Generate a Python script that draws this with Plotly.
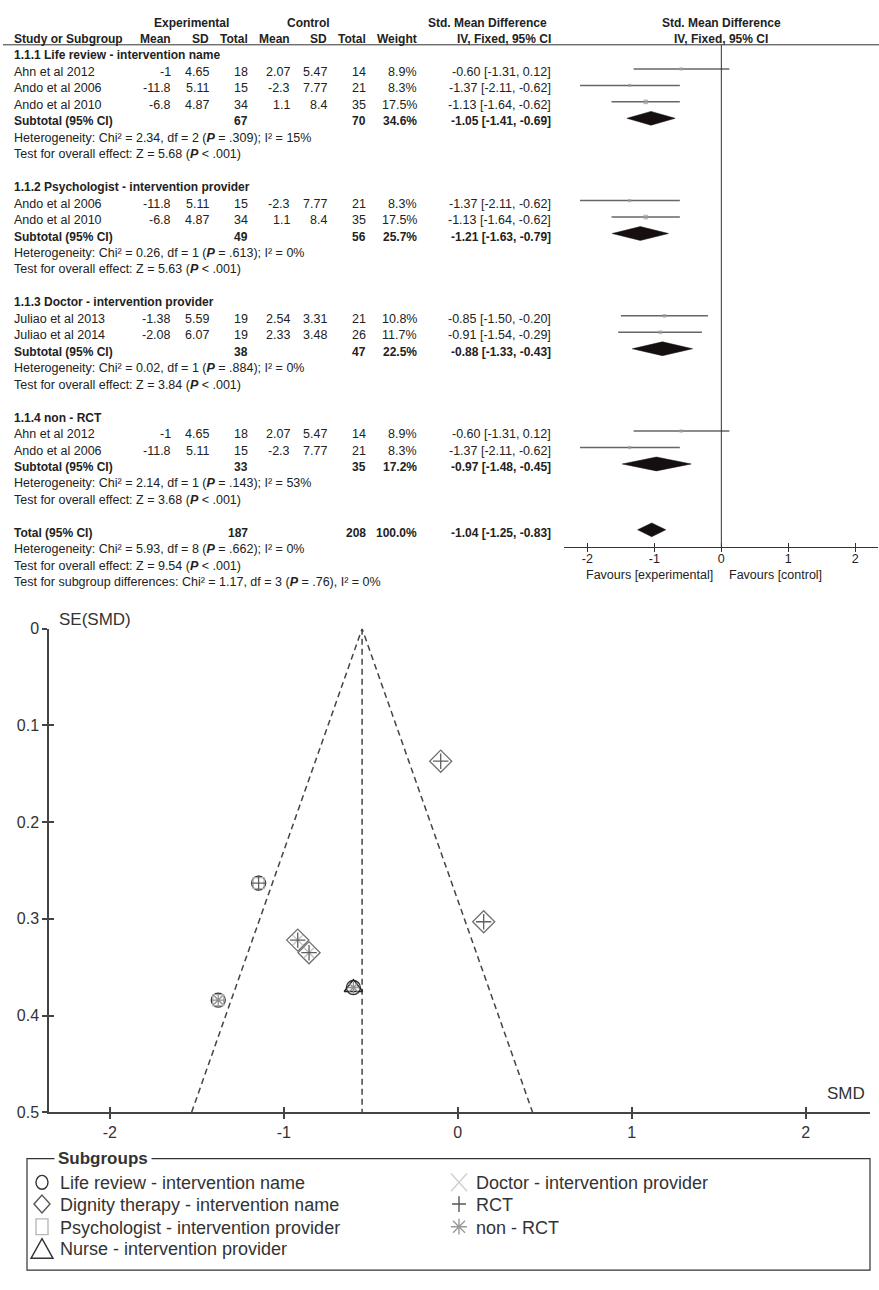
import plotly.graph_objects as go

# ---------------- DATA ----------------
group_titles = ["1.1.1 Life review - intervention name",
                "1.1.2 Psychologist - intervention provider",
                "1.1.3 Doctor - intervention provider",
                "1.1.4 non - RCT"]
study_names = ["Ahn et al 2012", "Ando et al 2006", "Ando et al 2010",
               "Ando et al 2006", "Ando et al 2010",
               "Juliao et al 2013", "Juliao et al 2014",
               "Ahn et al 2012", "Ando et al 2006"]
study_group = [0, 0, 0, 1, 1, 2, 2, 3, 3]
exp_mean = [-1, -11.8, -6.8, -11.8, -6.8, -1.38, -2.08, -1, -11.8]
exp_sd = [4.65, 5.11, 4.87, 5.11, 4.87, 5.59, 6.07, 4.65, 5.11]
exp_n = [18, 15, 34, 15, 34, 19, 19, 18, 15]
ctl_mean = [2.07, -2.3, 1.1, -2.3, 1.1, 2.54, 2.33, 2.07, -2.3]
ctl_sd = [5.47, 7.77, 8.4, 7.77, 8.4, 3.31, 3.48, 5.47, 7.77]
ctl_n = [14, 21, 35, 21, 35, 21, 26, 14, 21]
weight = [8.9, 8.3, 17.5, 8.3, 17.5, 10.8, 11.7, 8.9, 8.3]
smd = [-0.60, -1.37, -1.13, -1.37, -1.13, -0.85, -0.91, -0.60, -1.37]
ci_lo = [-1.31, -2.11, -1.64, -2.11, -1.64, -1.50, -1.54, -1.31, -2.11]
ci_hi = [0.12, -0.62, -0.62, -0.62, -0.62, -0.20, -0.29, 0.12, -0.62]

sub_exp_n = [67, 49, 38, 33]
sub_ctl_n = [70, 56, 47, 35]
sub_weight = [34.6, 25.7, 22.5, 17.2]
sub_smd = [-1.05, -1.21, -0.88, -0.97]
sub_lo = [-1.41, -1.63, -1.33, -1.48]
sub_hi = [-0.69, -0.79, -0.43, -0.45]
sub_chi2 = [2.34, 0.26, 0.02, 2.14]
sub_df = [2, 1, 1, 1]
sub_p = [".309", ".613", ".884", ".143"]
sub_i2 = [15, 0, 0, 53]
sub_z = [5.68, 5.63, 3.84, 3.68]

total_exp_n = 187
total_ctl_n = 208
total_weight = 100.0
total_smd = -1.04
total_lo = -1.25
total_hi = -0.83
total_chi2 = 5.93
total_df = 8
total_p = ".662"
total_i2 = 0
total_z = 9.54
diff_chi2 = 1.17
diff_df = 3
diff_p = ".76"
diff_i2 = 0

forest_ticks = [-2, -1, 0, 1, 2]
forest_ticktext = ["-2", "-1", "0", "1", "2"]

# funnel plot
funnel_smd = [-0.60, -1.377, -1.145, -0.855, -0.92, -0.098, 0.149]
funnel_se = [0.371, 0.384, 0.263, 0.335, 0.322, 0.137, 0.303]
pooled_smd = -0.55
se_max = 0.5
subgroup_labels = ["Life review - intervention name",
                   "Dignity therapy - intervention name",
                   "Psychologist - intervention provider",
                   "Nurse - intervention provider",
                   "Doctor - intervention provider",
                   "RCT",
                   "non - RCT"]
# membership of each funnel study (index into funnel arrays) per subgroup
subgroup_members = [[0, 1, 2],
                    [3, 4, 5, 6],
                    [1, 2],
                    [0],
                    [3, 4],
                    [2, 3, 4, 5, 6],
                    [0, 1]]
funnel_xticks = [-2, -1, 0, 1, 2]
funnel_xticktext = ["-2", "-1", "0", "1", "2"]
funnel_yticks = [0, 0.1, 0.2, 0.3, 0.4, 0.5]
funnel_yticktext = ["0", "0.1", "0.2", "0.3", "0.4", "0.5"]

# ---------------- STYLE / LAYOUT ----------------
W, H = 879, 1290
FONT = "Liberation Sans, Arial, sans-serif"
TXT = "#222222"
ROW_PX = 16.68
ROW0_PX = 11.7
DIAMOND_HALF = 0.42
REG = 12.5
BLD = 12


def fy(p):
    return 1 - p / H


def fx(p):
    return p / W


fig = go.Figure()
annotations = []
shapes = []


def txt(xp, row, text, anchor="left", bold=False, size=None, xref="paper", color=TXT):
    if size is None:
        size = BLD if bold else REG
    if bold:
        text = "<b>" + text + "</b>"
    annotations.append(dict(x=(xp / W) if xref == "paper" else xp, xref=xref, y=row, yref="y",
                            text=text, showarrow=False, xanchor=anchor, yanchor="middle",
                            yshift=-3, font=dict(family=FONT, size=size, color=color)))


COL = dict(study=11.5, em=173, esd=211, en=250, cm=292, csd=328.5, cn=367.5, w=419, ci=553)

# header
txt(191, 0, "Experimental", "center", True)
txt(308.5, 0, "Control", "center", True)
txt(549, 0, "Std. Mean Difference", "right", True)
txt(0, 0, "Std. Mean Difference", "center", True, xref="x")
txt(COL["study"], 1, "Study or Subgroup", "left", True)
txt(COL["em"], 1, "Mean", "right", True)
txt(COL["esd"], 1, "SD", "right", True)
txt(COL["en"], 1, "Total", "right", True)
txt(COL["cm"], 1, "Mean", "right", True)
txt(COL["csd"], 1, "SD", "right", True)
txt(COL["cn"], 1, "Total", "right", True)
txt(COL["w"], 1, "Weight", "right", True)
txt(COL["ci"], 1, "IV, Fixed, 95% CI", "right", True)
txt(0, 1, "IV, Fixed, 95% CI", "center", True, xref="x")


def ci_text(e, lo, hi):
    return f"{e:.2f} [{lo:.2f}, {hi:.2f}]"


P = "<b><i>P</i></b>"

study_rows = []
sub_rows = []
row = 2
for g in range(len(group_titles)):
    txt(COL["study"], row, group_titles[g], "left", True)
    idx = [i for i in range(len(study_names)) if study_group[i] == g]
    for k, i in enumerate(idx):
        r = row + 1 + k
        study_rows.append(r)
        txt(COL["study"], r, study_names[i])
        txt(COL["em"], r, f"{exp_mean[i]:g}", "right")
        txt(COL["esd"], r, f"{exp_sd[i]:g}", "right")
        txt(COL["en"], r, f"{exp_n[i]}", "right")
        txt(COL["cm"], r, f"{ctl_mean[i]:g}", "right")
        txt(COL["csd"], r, f"{ctl_sd[i]:g}", "right")
        txt(COL["cn"], r, f"{ctl_n[i]}", "right")
        txt(COL["w"], r, f"{weight[i]:.1f}%", "right")
        txt(COL["ci"], r, ci_text(smd[i], ci_lo[i], ci_hi[i]), "right")
    r = row + 1 + len(idx)
    sub_rows.append(r)
    txt(COL["study"], r, "Subtotal (95% CI)", "left", True)
    txt(COL["en"], r, f"{sub_exp_n[g]}", "right", True)
    txt(COL["cn"], r, f"{sub_ctl_n[g]}", "right", True)
    txt(COL["w"], r, f"{sub_weight[g]:.1f}%", "right", True)
    txt(COL["ci"], r, ci_text(sub_smd[g], sub_lo[g], sub_hi[g]), "right", True)
    txt(COL["study"], r + 1,
        f"Heterogeneity: Chi² = {sub_chi2[g]:.2f}, df = {sub_df[g]} ({P} = {sub_p[g]}); I² = {sub_i2[g]}%")
    txt(COL["study"], r + 2, f"Test for overall effect: Z = {sub_z[g]:.2f} ({P} < .001)")
    row = r + 4

total_row = row
txt(COL["study"], total_row, "Total (95% CI)", "left", True)
txt(COL["en"], total_row, f"{total_exp_n}", "right", True)
txt(COL["cn"], total_row, f"{total_ctl_n}", "right", True)
txt(COL["w"], total_row, f"{total_weight:.1f}%", "right", True)
txt(COL["ci"], total_row, ci_text(total_smd, total_lo, total_hi), "right", True)
txt(COL["study"], total_row + 1,
    f"Heterogeneity: Chi² = {total_chi2:.2f}, df = {total_df} ({P} = {total_p}); I² = {total_i2}%")
txt(COL["study"], total_row + 2, f"Test for overall effect: Z = {total_z:.2f} ({P} < .001)")
txt(COL["study"], total_row + 3,
    f"Test for subgroup differences: Chi² = {diff_chi2:.2f}, df = {diff_df} ({P} = {diff_p}), I² = {diff_i2}%")

# forest marks
lx, ly = [], []
for i, r in enumerate(study_rows):
    lx += [ci_lo[i], ci_hi[i], None]
    ly += [r, r, None]
fig.add_trace(go.Scatter(x=lx, y=ly, mode="lines", line=dict(color="#666666", width=1.5),
                         hoverinfo="skip", showlegend=False, xaxis="x", yaxis="y"))
fig.add_trace(go.Scatter(x=smd, y=study_rows, mode="markers",
                         marker=dict(symbol="square", color="#a0a0a0",
                                     size=[2 + w * 0.15 for w in weight], line=dict(width=0)),
                         hoverinfo="skip", showlegend=False, xaxis="x", yaxis="y"))
for e, lo, hi, r in list(zip(sub_smd, sub_lo, sub_hi, sub_rows)) + [(total_smd, total_lo, total_hi, total_row)]:
    fig.add_trace(go.Scatter(x=[lo, e, hi, e, lo], y=[r, r - DIAMOND_HALF, r, r + DIAMOND_HALF, r],
                             mode="lines", fill="toself", fillcolor="#150f0f",
                             line=dict(color="#150f0f", width=0.5),
                             hoverinfo="skip", showlegend=False, xaxis="x", yaxis="y"))
fig.add_trace(go.Scatter(x=[None], y=[None], xaxis="x2", yaxis="y", showlegend=False))

annotations.append(dict(x=0, xref="x", xshift=-6, y=fy(575), yref="paper", text="Favours [experimental]",
                        showarrow=False, xanchor="right", yanchor="middle",
                        font=dict(family=FONT, size=REG, color=TXT)))
annotations.append(dict(x=0, xref="x", xshift=6, y=fy(575), yref="paper", text="Favours [control]",
                        showarrow=False, xanchor="left", yanchor="middle",
                        font=dict(family=FONT, size=REG, color=TXT)))

shapes.append(dict(type="line", xref="paper", yref="paper", x0=fx(3), x1=1, y0=fy(37.3), y1=fy(37.3),
                   line=dict(color="#333", width=1)))
shapes.append(dict(type="line", xref="x", yref="paper", x0=0, x1=0, y0=fy(546), y1=fy(37.3),
                   line=dict(color="#333", width=1)))

# ---------------- FUNNEL ----------------
fig.add_trace(go.Scatter(x=[pooled_smd - 1.96 * se_max, pooled_smd, pooled_smd + 1.96 * se_max],
                         y=[se_max, 0, se_max], mode="lines",
                         line=dict(color="#444", width=1.5, dash="6px,4px"),
                         hoverinfo="skip", showlegend=False, xaxis="x3", yaxis="y3"))
fig.add_trace(go.Scatter(x=[pooled_smd, pooled_smd], y=[0, se_max], mode="lines",
                         line=dict(color="#444", width=1.5, dash="6px,4px"),
                         hoverinfo="skip", showlegend=False, xaxis="x3", yaxis="y3"))

sym_style = [("circle-open", "#333333", 14),
             ("diamond-open", "#707070", 17),
             ("square-open", "#b0b0b0", 11),
             ("triangle-up-open", "#222222", 16),
             ("x-thin-open", "#c0c0c0", 10),
             ("cross-thin-open", "#606060", 11),
             ("asterisk-open", "#909090", 10)]
for lab, mem, (sym, col, sz) in zip(subgroup_labels, subgroup_members, sym_style):
    fig.add_trace(go.Scatter(x=[funnel_smd[i] for i in mem], y=[funnel_se[i] for i in mem],
                             mode="markers", name=lab,
                             marker=dict(symbol=sym, size=sz, color=col, line=dict(color=col, width=1.3)),
                             hoverinfo="skip", showlegend=False, xaxis="x3", yaxis="y3"))
fig.add_trace(go.Scatter(x=[None], y=[None], xaxis="x4", yaxis="y3", showlegend=False))
fig.add_trace(go.Scatter(x=[None], y=[None], xaxis="x3", yaxis="y4", showlegend=False))

FF = dict(family=FONT, size=16, color="#333")
FL = dict(family=FONT, size=17, color="#333")
annotations.append(dict(x=fx(57), xref="paper", y=fy(620), yref="paper", text="SE(SMD)", showarrow=False,
                        xanchor="left", yanchor="middle", font=FL))
annotations.append(dict(x=fx(867), xref="paper", y=fy(1100), yref="paper", text="SMD", showarrow=False,
                        xanchor="right", yanchor="middle", font=FL))

# legend box (drawn)
shapes.append(dict(type="rect", xref="paper", yref="paper", x0=fx(27), x1=fx(870), y0=fy(1279), y1=fy(1166),
                   line=dict(color="#333", width=1.2), fillcolor="rgba(0,0,0,0)"))
annotations.append(dict(x=fx(54), xref="paper", y=fy(1166), yref="paper", text="<b>Subgroups</b>",
                        showarrow=False, xanchor="left", yanchor="middle", bgcolor="white", borderpad=3,
                        font=dict(family=FONT, size=17, color="#333")))


def ppath(points, close=False):
    s = "M " + " L ".join(f"{fx(a):.5f},{fy(b):.5f}" for a, b in points)
    return s + (" Z" if close else "")


def glyph(kind, cx, cy, col):
    ln = dict(color=col, width=1.4)
    if kind == "circle":
        shapes.append(dict(type="circle", xref="paper", yref="paper", x0=fx(cx - 6), x1=fx(cx + 6),
                           y0=fy(cy + 7), y1=fy(cy - 7), line=ln))
    elif kind == "diamond":
        shapes.append(dict(type="path", xref="paper", yref="paper", line=ln,
                           path=ppath([(cx, cy - 9), (cx + 8, cy), (cx, cy + 9), (cx - 8, cy)], True)))
    elif kind == "square":
        shapes.append(dict(type="rect", xref="paper", yref="paper", x0=fx(cx - 6), x1=fx(cx + 6),
                           y0=fy(cy + 8), y1=fy(cy - 8), line=ln))
    elif kind == "triangle":
        shapes.append(dict(type="path", xref="paper", yref="paper", line=ln,
                           path=ppath([(cx, cy - 10), (cx + 11, cy + 10), (cx - 11, cy + 10)], True)))
    elif kind == "x":
        shapes.append(dict(type="path", xref="paper", yref="paper", line=ln,
                           path=ppath([(cx - 8, cy - 9), (cx + 8, cy + 9)]) + " " +
                           ppath([(cx - 8, cy + 9), (cx + 8, cy - 9)])))
    elif kind == "cross":
        shapes.append(dict(type="path", xref="paper", yref="paper", line=ln,
                           path=ppath([(cx, cy - 8), (cx, cy + 8)]) + " " +
                           ppath([(cx - 7, cy), (cx + 7, cy)])))
    elif kind == "asterisk":
        shapes.append(dict(type="path", xref="paper", yref="paper", line=ln,
                           path=ppath([(cx, cy - 8), (cx, cy + 8)]) + " " +
                           ppath([(cx - 8, cy), (cx + 8, cy)]) + " " +
                           ppath([(cx - 6, cy - 6), (cx + 6, cy + 6)]) + " " +
                           ppath([(cx - 6, cy + 6), (cx + 6, cy - 6)])))


glyph_kinds = ["circle", "diamond", "square", "triangle", "x", "cross", "asterisk"]
glyph_cols = ["#333", "#555", "#b8b8b8", "#333", "#d0d0d0", "#555", "#999"]
leg_pos = [(42, 58, 1191), (42, 58, 1213), (42, 58, 1236), (42, 58, 1258),
           (459, 474, 1191), (459, 474, 1213), (459, 474, 1236)]
for lab, gk, gc, (gx, tx, ty) in zip(subgroup_labels, glyph_kinds, glyph_cols, leg_pos):
    glyph(gk, gx, ty - 1, gc)
    annotations.append(dict(x=fx(tx), xref="paper", y=fy(ty), yref="paper", text=lab, showarrow=False,
                            xanchor="left", yanchor="middle",
                            font=dict(family=FONT, size=18, color="#333")))

n_rows_top = (600 - ROW0_PX) / ROW_PX
fig.update_layout(
    width=W, height=H, margin=dict(l=0, r=0, t=0, b=0),
    paper_bgcolor="white", plot_bgcolor="white",
    showlegend=False,
    font=dict(family=FONT, color=TXT),
    xaxis=dict(domain=[fx(564), fx(878)], range=[-2.35, 2.34], anchor="free", position=fy(546),
               showline=True, linecolor="#333", linewidth=1, ticks="inside", ticklen=4,
               tickcolor="#333", tickvals=forest_ticks, ticktext=forest_ticktext,
               tickfont=dict(family=FONT, size=REG, color=TXT), showgrid=False, zeroline=False,
               fixedrange=True),
    xaxis2=dict(overlaying="x", matches="x", anchor="free", position=fy(546), ticks="outside", ticklen=4,
                tickcolor="#333", tickvals=forest_ticks, showticklabels=False, showline=False,
                showgrid=False, zeroline=False),
    yaxis=dict(domain=[fy(600), 1], range=[n_rows_top, -ROW0_PX / ROW_PX], visible=False,
               showgrid=False, zeroline=False),
    xaxis3=dict(domain=[fx(49), fx(870)], range=[-2.35, 2.37], anchor="y3",
                showline=True, linecolor="#444", linewidth=1.5, ticks="outside", ticklen=5,
                tickcolor="#444", tickwidth=1.5, tickvals=funnel_xticks, ticktext=funnel_xticktext,
                tickfont=FF, showgrid=False, zeroline=False),
    xaxis4=dict(overlaying="x3", matches="x3", anchor="y3", ticks="inside", ticklen=5, tickcolor="#444",
                tickwidth=1.5, tickvals=funnel_xticks, showticklabels=False, showline=False,
                showgrid=False, zeroline=False),
    yaxis3=dict(domain=[fy(1119), fy(629)], range=[0.5, 0], anchor="x3",
                showline=True, linecolor="#444", linewidth=1.5, ticks="outside", ticklen=5,
                tickcolor="#444", tickwidth=1.5, tickvals=funnel_yticks, ticktext=funnel_yticktext,
                tickfont=FF, showgrid=False, zeroline=False),
    yaxis4=dict(overlaying="y3", matches="y3", anchor="x3", ticks="inside", ticklen=5, tickcolor="#444",
                tickwidth=1.5, tickvals=funnel_yticks, showticklabels=False, showline=False,
                showgrid=False, zeroline=False),
    annotations=annotations,
    shapes=shapes,
)

fig.write_html("out.html")
